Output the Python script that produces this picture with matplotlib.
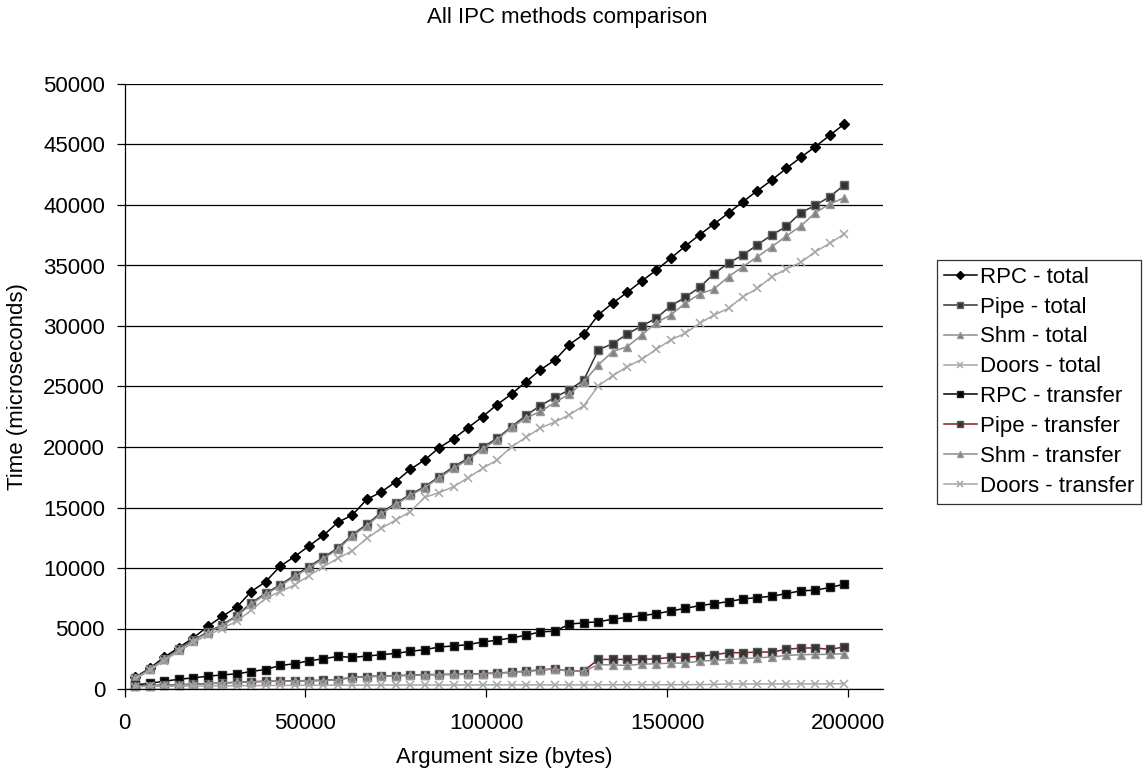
import matplotlib
matplotlib.use("Agg")
import matplotlib.pyplot as plt
import numpy as np

plt.rcParams['font.family'] = ['Liberation Sans', 'DejaVu Sans']

# Argument sizes (bytes)
sizes = [3000 + 4000 * i for i in range(50)]

rpc_total = [972, 1722, 2639, 3417, 4222, 5167, 6000, 6750, 8050, 8860,
             10140, 10937, 11819, 12700, 13775, 14381, 15676, 16282, 17136, 18155,
             18927, 19946, 20690, 21599, 22508, 23500, 24380, 25390, 26390, 27180,
             28470, 29320, 30930, 31900, 32785, 33721, 34603, 35595, 36586, 37551,
             38432, 39341, 40278, 41187, 42069, 43033, 43942, 44824, 45761, 46697]

pipe_total = [900, 1670, 2500, 3280, 4030, 4720, 5280, 6070, 7100, 7907,
              8596, 9395, 10111, 10882, 11654, 12756, 13610, 14602, 15345, 16089,
              16723, 17549, 18376, 19065, 19974, 20718, 21680, 22609, 23424, 24103,
              24728, 25543, 28030, 28540, 29341, 30002, 30636, 31655, 32371, 33198,
              34327, 35209, 35870, 36724, 37523, 38239, 39369, 39975, 40691, 41656]

shm_total = [880, 1640, 2460, 3230, 3980, 4650, 5220, 6000, 7000, 7830,
             8500, 9300, 10000, 10780, 11550, 12650, 13500, 14500, 15250, 16000,
             16650, 17450, 18250, 18950, 19850, 20600, 21620, 22392, 22935, 23696,
             24375, 25380, 26800, 27890, 28294, 29258, 30277, 30911, 31876, 32646,
             33060, 34079, 34906, 35733, 36559, 37440, 38267, 39369, 40085, 40609]

doors_total = [800, 1550, 2350, 3100, 3850, 4450, 5000, 5600, 6500, 7494,
               8045, 8596, 9367, 10111, 10800, 11433, 12453, 13279, 13968, 14657,
               15841, 16227, 16723, 17467, 18238, 18927, 20029, 20800, 21576, 22065,
               22663, 23424, 25054, 25900, 26641, 27247, 28073, 28845, 29396, 30222,
               30911, 31462, 32426, 33115, 34079, 34713, 35264, 36146, 36834, 37606]

rpc_transfer = [333, 472, 639, 806, 917, 1056, 1167, 1250, 1444, 1611,
                1944, 2083, 2333, 2500, 2694, 2611, 2722, 2833, 2944, 3111,
                3250, 3472, 3556, 3667, 3889, 4028, 4222, 4444, 4722, 4778,
                5361, 5472, 5556, 5778, 5917, 6056, 6222, 6444, 6667, 6889,
                7056, 7222, 7444, 7556, 7667, 7889, 8111, 8167, 8389, 8667]

pipe_transfer = [250, 280, 320, 360, 400, 450, 500, 560, 600, 640,
                 650, 670, 700, 720, 780, 970, 1030, 1080, 1110, 1140,
                 1190, 1200, 1220, 1230, 1280, 1320, 1389, 1472, 1583, 1667,
                 1472, 1500, 2444, 2444, 2444, 2444, 2500, 2611, 2639, 2694,
                 2833, 3000, 3000, 3056, 3056, 3278, 3389, 3389, 3278, 3472]

shm_transfer = [230, 260, 300, 340, 380, 430, 480, 540, 580, 620,
                630, 650, 680, 700, 760, 950, 1010, 1060, 1090, 1120,
                1170, 1180, 1200, 1210, 1260, 1300, 1370, 1450, 1560, 1650,
                1460, 1490, 2000, 2000, 1944, 2056, 2083, 2139, 2139, 2306,
                2361, 2444, 2500, 2583, 2639, 2778, 2833, 2861, 2861, 2917]

doors_transfer = [200, 210, 220, 230, 240, 250, 260, 270, 280, 290,
                  300, 300, 310, 310, 320, 320, 320, 330, 330, 330,
                  330, 330, 330, 330, 340, 340, 340, 340, 340, 340,
                  340, 340, 340, 350, 350, 350, 350, 350, 360, 360,
                  380, 410, 410, 420, 420, 420, 420, 420, 430, 440]

labels = ["RPC - total", "Pipe - total", "Shm - total", "Doors - total",
          "RPC - transfer", "Pipe - transfer", "Shm - transfer", "Doors - transfer"]
series = [rpc_total, pipe_total, shm_total, doors_total,
          rpc_transfer, pipe_transfer, shm_transfer, doors_transfer]

styles = [
    dict(color='#000000', marker='D', ms=5.2, mfc='#000000', mec='#000000'),
    dict(color='#333333', marker='s', ms=5.8, mfc='#333333', mec='#666666'),
    dict(color='#8c8c8c', marker='^', ms=6.3, mfc='#808080', mec='#999999'),
    dict(color='#a6a6a6', marker='x', ms=6.0, mfc='#a6a6a6', mec='#a6a6a6', mew=1.1),
    dict(color='#000000', marker='s', ms=5.8, mfc='#000000', mec='#222222'),
    dict(color='#8b1a1a', marker='s', ms=5.8, mfc='#333333', mec='#555555'),
    dict(color='#8c8c8c', marker='^', ms=6.3, mfc='#808080', mec='#999999'),
    dict(color='#a6a6a6', marker='x', ms=6.0, mfc='#a6a6a6', mec='#a6a6a6', mew=1.1),
]

fig = plt.figure(figsize=(11.47, 7.78), dpi=100)
ax = fig.add_axes([124.5 / 1147, 1 - 689 / 778, (883 - 124.5) / 1147, (689 - 84) / 778])

for y, lab, st in zip(series, labels, styles):
    ax.plot(sizes, y, label=lab, lw=1.1, clip_on=False, **st)

ax.set_xlim(0, 209700)
ax.set_ylim(0, 50000)
ax.set_xticks([0, 50000, 100000, 150000, 200000])
ax.set_yticks(np.arange(0, 50001, 5000))
ax.yaxis.grid(True, color='#000000', lw=0.9)
ax.set_axisbelow(True)
for s in ['top', 'right']:
    ax.spines[s].set_visible(False)
for s in ['left', 'bottom']:
    ax.spines[s].set_color('#000000')
    ax.spines[s].set_linewidth(0.9)
ax.tick_params(axis='both', direction='out', length=6, width=0.9, labelsize=16, colors='#000000')
ax.tick_params(axis='y', pad=8)
ax.tick_params(axis='x', pad=11)

fig.text(567 / 1147, 1 - 18 / 778, "All IPC methods comparison", ha='center', va='center', fontsize=16)
fig.text(504 / 1147, 1 - 757 / 778, "Argument size (bytes)", ha='center', va='center', fontsize=16)
fig.text(18 / 1147, 1 - 386.5 / 778, "Time (microseconds)", ha='center', va='center',
         rotation=90, fontsize=16)

leg = ax.legend(loc='upper left', bbox_to_anchor=(937 / 1147, 1 - 260 / 778),
                bbox_transform=fig.transFigure, fontsize=16, frameon=True, fancybox=False,
                handlelength=1.5, handletextpad=0.15, labelspacing=0.4, borderpad=0.3,
                borderaxespad=0, markerscale=0.75)
leg.get_frame().set_edgecolor('#000000')
leg.get_frame().set_linewidth(0.9)

fig.savefig("out.png", dpi=100)
